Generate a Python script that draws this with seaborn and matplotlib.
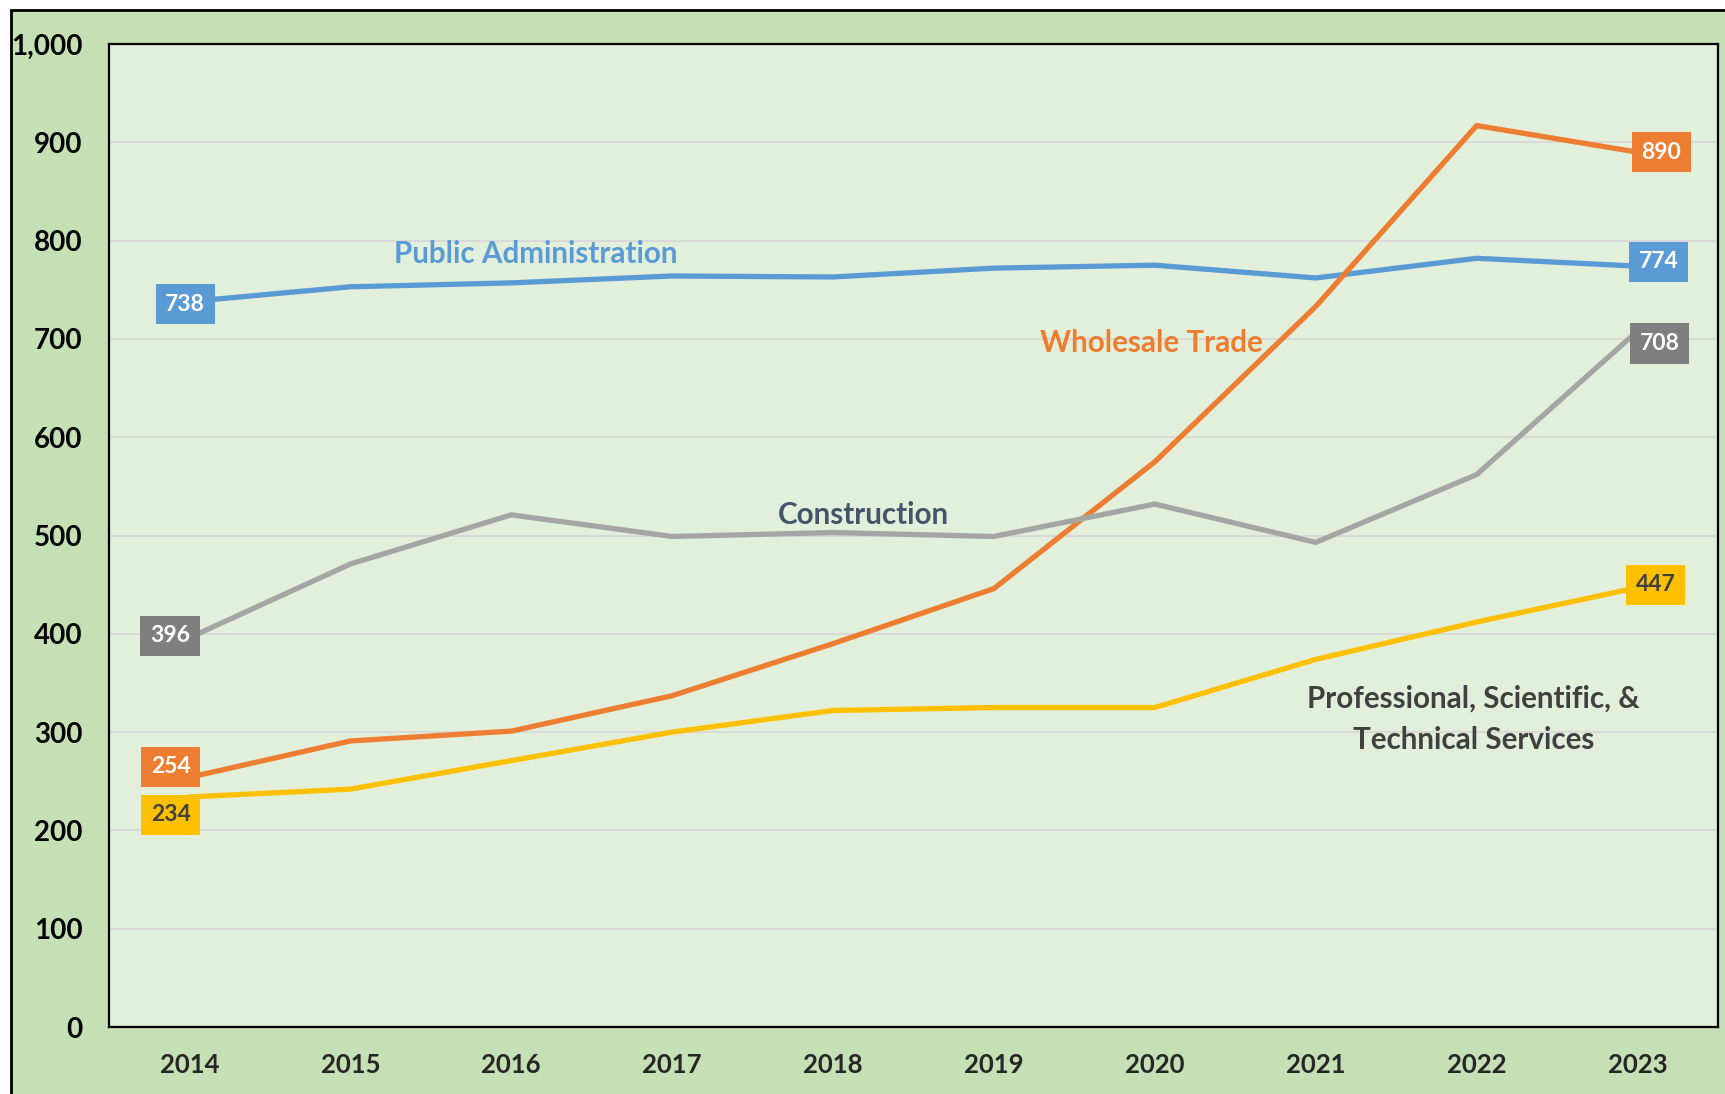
import pandas as pd
import matplotlib.pyplot as plt
from matplotlib.patches import Rectangle
import seaborn as sns

# chart values
years = [2014, 2015, 2016, 2017, 2018, 2019, 2020, 2021, 2022, 2023]
public_admin = [738, 753, 757, 764, 763, 772, 775, 762, 782, 774]
wholesale = [254, 291, 301, 337, 390, 446, 575, 733, 917, 890]
construction = [396, 471, 521, 499, 503, 499, 532, 493, 562, 708]
professional = [234, 242, 271, 300, 322, 325, 325, 374, 412, 447]

series_names = ['Public Administration', 'Wholesale Trade', 'Construction',
                'Professional, Scientific, &\nTechnical Services']
series_values = [public_admin, wholesale, construction, professional]

line_colors = ['#5B9BD5', '#ED7D31', '#A5A5A5', '#FFC000']
box_colors = ['#5B9BD5', '#ED7D31', '#7F7F7F', '#FFC000']
box_text = ['white', 'white', 'white', '#404040']
name_colors = ['#5B9BD5', '#ED7D31', '#44546A', '#404040']

# build long-form table
rows = []
for name, vals in zip(series_names, series_values):
    for i, v in enumerate(vals):
        rows.append({'idx': i, 'value': v, 'series': name})
df = pd.DataFrame(rows)

sns.set_style('white')
plt.rcParams['font.family'] = ['Lato', 'DejaVu Sans']
plt.rcParams['font.weight'] = 'bold'

fig = plt.figure(figsize=(17.25, 10.94), dpi=100)
fig.patch.set_facecolor('white')
# outer green panel with black border
fig.patches.append(Rectangle((11 / 1725, -0.05), 1.0, 1.05 - 10 / 1094,
                             transform=fig.transFigure, facecolor='#C5E0B4',
                             edgecolor='black', linewidth=2, zorder=0))

ax = fig.add_axes([109 / 1725, 1 - 1027 / 1094, (1718 - 109) / 1725, (1027 - 44) / 1094])
ax.set_zorder(2)
ax.set_facecolor('#E2EFDA')

sns.lineplot(data=df, x='idx', y='value', hue='series', palette=line_colors,
             linewidth=3.8, ax=ax, legend=False, zorder=3)

ax.set_ylim(0, 1000)
ax.set_xlim(-0.5, 9.5)
ax.set_yticks(range(0, 1001, 100))
ax.set_yticklabels([f'{v:,}' for v in range(0, 1001, 100)])
ax.set_xticks(range(len(years)))
ax.set_xticklabels([str(y) for y in years])
ax.tick_params(axis='y', length=0, pad=19, labelsize=20, labelcolor='black')
ax.tick_params(axis='x', length=0, pad=19, labelsize=18.5, labelcolor='#262626')
ax.yaxis.grid(True, color='#D9D9D9', linewidth=1.5)
ax.set_axisbelow(True)
for s in ax.spines.values():
    s.set_color('black')
    s.set_linewidth(1.6)
ax.set_xlabel('')
ax.set_ylabel('')

# value boxes at first and last points (offsets in points)
first_off = [(-3, -2), (-13.5, 7.5), (-14, 1.5), (-13.5, -12.8)]
last_off = [(15, 3), (17, 0), (16, -9), (13, 2)]
for k, vals in enumerate(series_values):
    bbox = dict(boxstyle='square,pad=0.42', facecolor=box_colors[k], edgecolor='none')
    for i, off in ((0, first_off[k]), (len(vals) - 1, last_off[k])):
        ax.annotate(str(vals[i]), xy=(i, vals[i]), xytext=off, textcoords='offset points',
                    ha='center', va='center', fontsize=16.5, fontweight='bold',
                    color=box_text[k], bbox=bbox, zorder=5)

# series name labels
name_pos = [(2.15, 786), (5.98, 696), (4.19, 521), (7.98, 313)]
for k, (x, y) in enumerate(name_pos):
    ax.text(x, y, series_names[k], ha='center', va='center', fontsize=21.3,
            fontweight='bold', color=name_colors[k], linespacing=1.55, zorder=4)

plt.savefig('out.png', dpi=100)
